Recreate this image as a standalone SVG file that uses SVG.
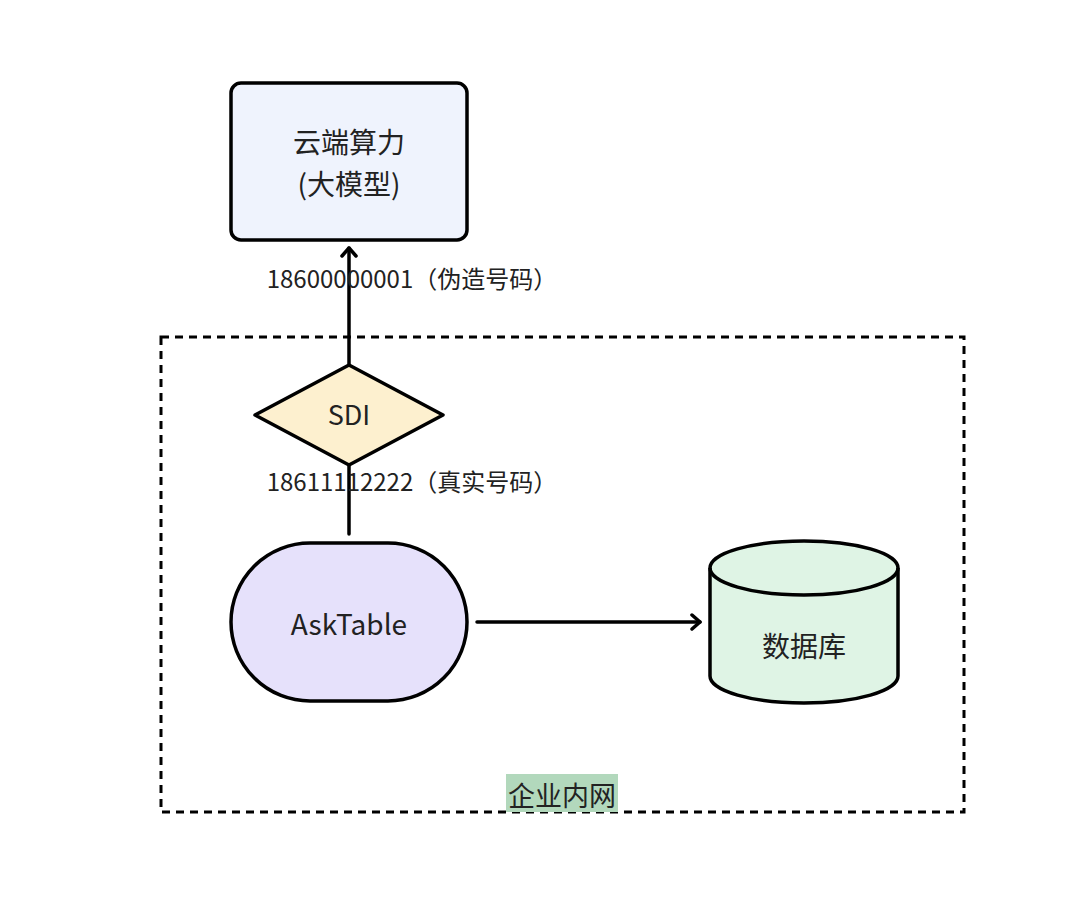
<svg xmlns="http://www.w3.org/2000/svg" width="1084" height="904" viewBox="0 0 1084 904">
<style>
.s{stroke:#000;stroke-width:3.5;}
.t{font-family:"Noto Sans CJK SC","Noto Sans",sans-serif;fill:#222;text-anchor:middle;}
.c{fill:none;stroke:#000;stroke-width:3.5;stroke-linecap:round;stroke-linejoin:round;}
</style>
<defs>
<marker id="ah" markerWidth="20" markerHeight="20" refX="10" refY="8" orient="auto" markerUnits="userSpaceOnUse" viewBox="0 0 20 16">
<path d="M2,1 L10,8 L2,15" fill="none" stroke="#000" stroke-width="3.5" stroke-linecap="round" stroke-linejoin="round"/>
</marker>
</defs>
<rect width="1084" height="904" fill="#fff"/>
<g id="intranet">
<rect x="161" y="337" width="803" height="475" fill="none" stroke="#000" stroke-width="3" stroke-dasharray="8 6"/>
<rect x="506" y="774" width="112" height="38" fill="#b2d8bc"/>
<text class="t" x="562" y="806" font-size="27">企业内网</text>
</g>
<g id="connectors">
<line class="c" x1="349" y1="365" x2="349" y2="248" marker-end="url(#ah)"/>
<line class="c" x1="349" y1="465" x2="349" y2="534"/>
<line class="c" x1="477" y1="622" x2="700" y2="622" marker-end="url(#ah)"/>
<text class="t" x="412" y="288" font-size="24">18600000001（伪造号码）</text>
<text class="t" x="412" y="491" font-size="24">18611112222（真实号码）</text>
</g>
<g id="cloud">
<rect class="s" x="231" y="83" width="236" height="157" rx="10" fill="#eff3fd"/>
<text class="t" x="349" y="153" font-size="28">云端算力</text>
<text class="t" x="349" y="195" font-size="28">(大模型)</text>
</g>
<g id="sdi">
<polygon class="s" points="349,365 443,415 349,465 255,415" fill="#fdf0cf" stroke-linejoin="round"/>
<text class="t" x="349" y="425" font-size="27">SDI</text>
</g>
<g id="asktable">
<rect class="s" x="231" y="543" width="236" height="158" rx="79" fill="#e6e1fb"/>
<text class="t" x="349" y="635" font-size="28">AskTable</text>
</g>
<g id="db">
<path class="s" d="M710,568 A94,27 0 0 1 898,568 L898,676 A94,27 0 0 1 710,676 Z" fill="#dff4e5"/>
<path d="M710,568 A94,27 0 0 0 898,568" fill="none" stroke="#000" stroke-width="3.5"/>
<text class="t" x="804" y="657" font-size="28">数据库</text>
</g>
</svg>
